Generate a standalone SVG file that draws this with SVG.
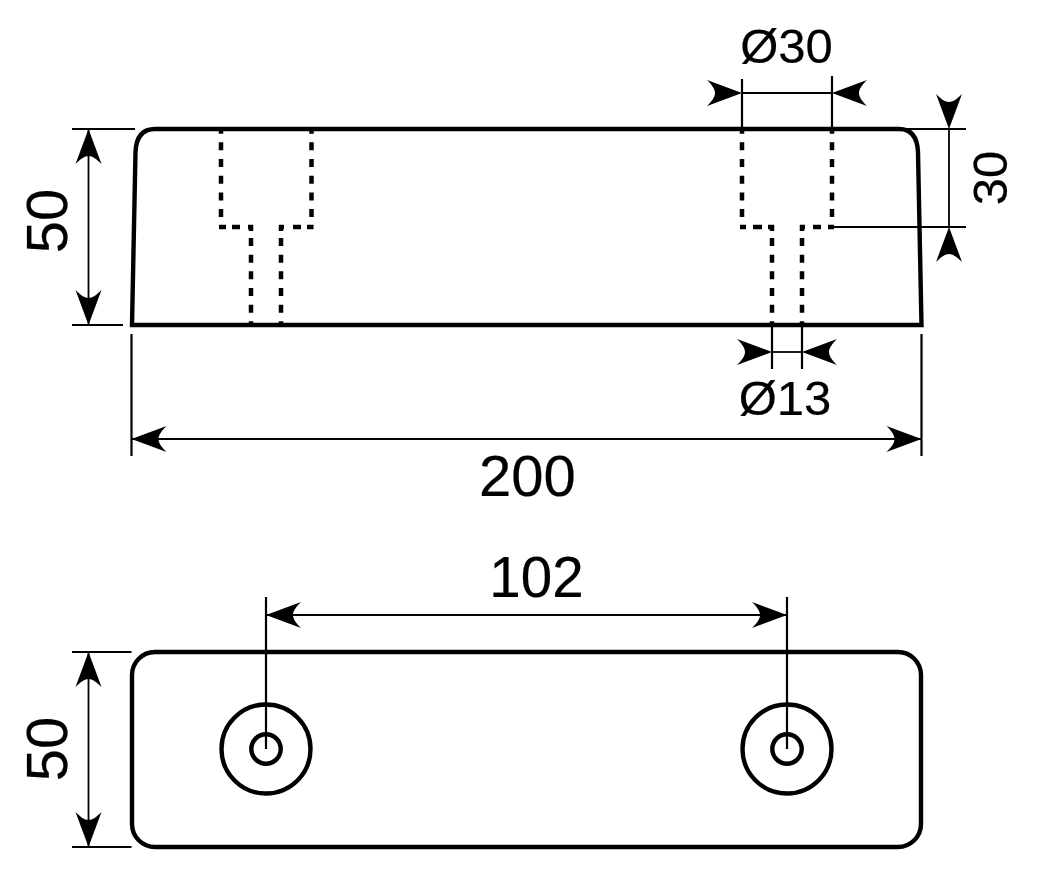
<svg xmlns="http://www.w3.org/2000/svg" width="1048" height="870" viewBox="0 0 1048 870">
<style>
.body{fill:none;stroke:#000;stroke-width:4.400}
.hid{fill:none;stroke:#000;stroke-width:4.500;stroke-dasharray:8 8.670}
.top{stroke-dashoffset:3.300}
.sol{fill:none;stroke:#000;stroke-width:4.500}
.ext{fill:none;stroke:#000;stroke-width:2.200}
.dim{fill:none;stroke:#000;stroke-width:1.800;marker-start:url(#a);marker-end:url(#a)}
.out{fill:none;stroke:#000;stroke-width:1.800;marker-start:url(#b);marker-end:url(#b)}
text{font-family:"Liberation Sans",Arial,sans-serif;fill:#000;stroke:#000;stroke-width:.2;text-anchor:middle}
.big{font-size:58px}
.mid{font-size:49px}
.num{font-size:56.500px}
</style>
<defs>
<marker id="a" markerUnits="userSpaceOnUse" markerWidth="37" markerHeight="28" refX="36" refY="14" orient="auto-start-reverse" viewBox="0 0 37 28"><path d="M36,14 L1,1 C6,6 9,10 9,14 C9,18 6,22 1,27 Z" fill="#000"/></marker>
<marker id="b" markerUnits="userSpaceOnUse" markerWidth="37" markerHeight="28" refX="1" refY="14" orient="auto-start-reverse" viewBox="0 0 37 28"><path d="M1,14 L36,1 C31,6 28,10 28,14 C28,18 31,22 36,27 Z" fill="#000"/></marker>
</defs>
<g id="side-view">
<path class="body" d="M132,325 L135.500,152 Q136.500,129 155,129 L899,129 Q917,129 918,152 L921.500,325 Z"/>
<g id="hole-left">
<path class="hid top" d="M221,129 V226"/>
<path class="hid top" d="M311.500,129 V226"/>
<path class="sol" d="M219,227 H226 M232,227 H240 M248,227 H253 M279,227 H284 M293,227 H301 M307,227 H313.500 M251,225 V231 M281,225 V231"/>
<path class="hid" d="M251,238 V325"/>
<path class="hid" d="M281,238 V325"/>
</g>
<g id="hole-right">
<path class="hid top" d="M742,129 V226"/>
<path class="hid top" d="M832,129 V226"/>
<path class="sol" d="M740,227 H746 M753,227 H762 M768,227 H774 M800,227 H805 M813,227 H821 M828,227 H834 M772,225 V231 M802,225 V231"/>
<path class="hid" d="M772,238 V325"/>
<path class="hid" d="M802,238 V325"/>
</g>
</g>
<g id="top-view">
<rect class="body" x="132" y="652" width="789" height="195" rx="23"/>
<circle class="body" cx="266" cy="749" r="44.500"/>
<circle class="body" cx="266" cy="749" r="14.700"/>
<circle class="body" cx="787" cy="749" r="44.500"/>
<circle class="body" cx="787" cy="749" r="14.700"/>
</g>
<g id="connectors">
<path class="ext" d="M72,129 H135 M72,325 H123 M742,79 V129 M832,76 V129 M900,129 H966 M832,227 H966 M772,325 V369 M802,325 V369 M131.500,334 V456 M921.500,334 V456 M266,597 V749 M787,597 V749 M72,652 H131.500 M72,847 H131.500"/>
<path class="dim" d="M88.500,129 V325"/>
<path class="dim" d="M131.500,439 H921.500"/>
<path class="dim" d="M266,615 H787"/>
<path class="dim" d="M88.500,652 V847"/>
<path class="out" d="M742,93 H832"/>
<path class="out" d="M949,129 V227"/>
<path class="out" d="M772,352 H802"/>
</g>
<g id="labels">
<text class="mid" x="786.500" y="63">Ø30</text>
<text class="mid" x="785" y="415">Ø13</text>
<text class="big" x="527.500" y="495.500">200</text>
<text class="num" x="536.500" y="596.500">102</text>
<text class="big" transform="translate(67,221) rotate(-90)">50</text>
<text class="big" transform="translate(67,749) rotate(-90)">50</text>
<text class="mid" transform="translate(1007,178) rotate(-90)">30</text>
</g>
</svg>
